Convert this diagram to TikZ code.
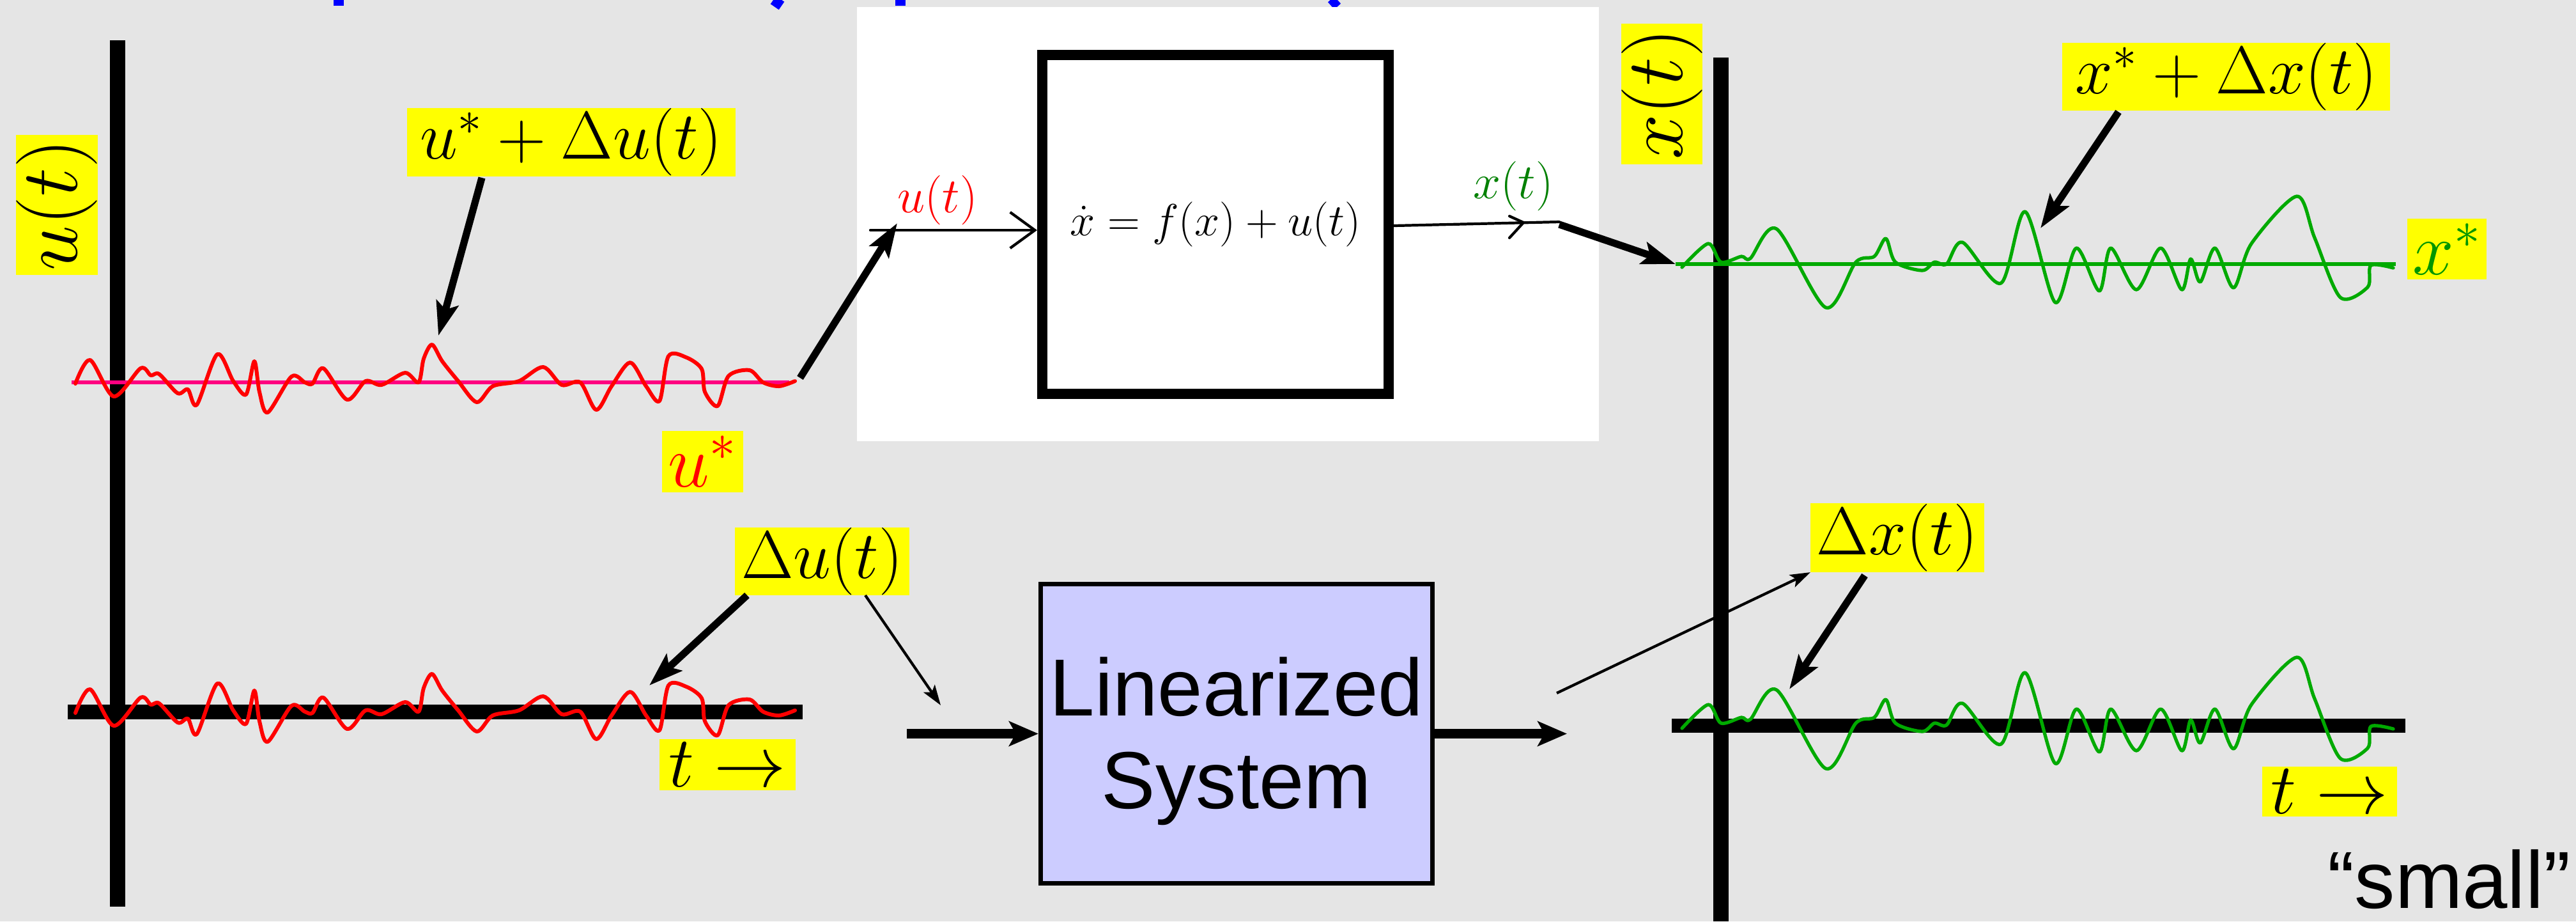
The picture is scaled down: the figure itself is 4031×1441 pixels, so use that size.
\RequirePackage{fix-cm}
\documentclass[tikz,border=0pt]{standalone}
\usepackage{fontspec}
\newfontfamily\arialf{Liberation Sans}
\usetikzlibrary{arrows.meta}
\definecolor{bg}{RGB}{229,229,229}
\definecolor{ylw}{RGB}{255,255,0}
\definecolor{pinkline}{RGB}{255,0,128}
\definecolor{wavegreen}{RGB}{0,170,0}
\definecolor{stargreen}{RGB}{0,150,0}
\definecolor{hgreen}{RGB}{0,128,0}
\definecolor{lavender}{RGB}{204,204,255}
\definecolor{titleblue}{RGB}{0,0,255}
\tikzset{
  ylab/.style={fill=ylw, inner sep=0pt, outer sep=0pt, font=\fontsize{30}{36}\selectfont},
  bigylab/.style={ylab, rotate=90, font=\fontsize{36}{40}\selectfont},
  starlab/.style={ylab, font=\fontsize{33}{38}\selectfont},
  tlab/.style={ylab, font=\fontsize{32}{36}\selectfont},
  axisline/.style={line width=6.8pt},
  hline/.style={line width=6.4pt},
  thickarr/.style={line width=3.2pt, -{Stealth[length=15pt,width=10pt,inset=3pt]}},
  thinarr/.style={line width=1.2pt, -{Stealth[length=9pt,width=6pt,inset=2pt]}},
  blockarr/.style={line width=4.5pt, -{Stealth[length=13pt,width=11pt,inset=3pt]}},
  hand/.style={line width=1.2pt, line cap=round, line join=round},
  sansbig/.style={font=\arialf\fontsize{36}{41}\selectfont, inner sep=0pt},
  redwave/.pic={\draw[red, line width=1.7pt, line join=round, line cap=round]
    plot[smooth, tension=0.5] coordinates {
    (118,2) (141,-35) (178,22) (220,-22) (236,-11) (249,-13) (278,17) (294,11) (308,35)
    (340,-44) (365,-2) (385,19) (398,-33) (406,15) (419,47) (456,-9) (477,0) (489,2)
    (506,-22) (543,27) (572,-2) (597,4) (634,-15) (655,0) (663,-37) (676,-59) (692,-33)
    (717,-2) (746,31) (771,6) (812,-2) (850,-24) (879,4) (908,0) (933,43) (957,6)
    (986,-31) (1011,6) (1032,29) (1046,-41) (1074,-39) (1098,-21) (1103,15) (1123,37)
    (1140,-10) (1173,-19) (1194,0) (1219,6) (1244,-2)};},
  greenwave/.pic={\draw[wavegreen, line width=1.5pt, line join=round, line cap=round]
    plot[smooth, tension=0.5] coordinates {
    (2632,5) (2673,-32) (2693,-3) (2725,-12) (2739,-9) (2780,-55) (2857,68) (2904,-3)
    (2933,-12) (2951,-40) (2966,-3) (3008,10) (3027,-3) (3046,0) (3071,-34) (3131,30)
    (3169,-82) (3216,60) (3249,-25) (3285,42) (3303,-25) (3343,40) (3381,-25) (3414,40)
    (3428,-8) (3443,28) (3466,-25) (3495,37) (3523,-32) (3594,-106) (3622,-41) (3662,52)
    (3705,36) (3710,2) (3745,6)};}
}
\begin{document}
\begin{tikzpicture}[x=0.01cm, y=-0.01cm]
\useasboundingbox (0,0) rectangle (4031,1441);
\fill[bg] (0,0) rectangle (4031,1441);
% cut-off title fragments
\draw[titleblue, line width=4.3pt] (530,0) -- (530,9);
\draw[titleblue, line width=4.3pt] (1210,0) -- (1223,9);
\draw[titleblue, line width=4.3pt] (1409,0) -- (1409,9);
\draw[titleblue, line width=4.3pt] (2093,0) -- (2083,9);
% white panel with nonlinear system
\fill[white] (1341,11) rectangle (2502,690);
\node[draw, line width=4.5pt, minimum width=5.42cm, minimum height=5.30cm, inner sep=0pt,
      font=\fontsize{20}{24}\selectfont] (sys) at (1902,351) {$\dot{x}=f(x)+u(t)$};
\node[text=red, font=\fontsize{22}{24}\selectfont] (hu) at (1467,313) {$u(t)$};
\node[text=hgreen, font=\fontsize{22}{24}\selectfont] (hx) at (2368,291) {$x(t)$};
\coordinate (hin) at (1362,360);
\coordinate (hout) at (2440,347);
\draw[hand, -{Straight Barb[length=11pt,width=16pt]}] (hin) -- (hin -| sys.west);
\draw[hand] (sys.east |- 0,353) -- (hout);
\draw[hand] (2362,338) -- (2384,348) -- (2362,372);
% left axes
\draw[axisline] (184,63) -- (184,1418);
\draw[hline] (106,1113.5) -- (1256,1113.5);
\draw[line width=1.8pt, pinkline] (112,598) -- (1235,598);
\pic at (0,598) {redwave};
\pic at (0,1113) {redwave};
% right axes
\draw[axisline] (2693,90) -- (2693,1441);
\draw[hline] (2616,1135) -- (3764,1135);
\draw[line width=1.8pt, wavegreen] (2622,413) -- (3749,413);
\pic at (0,413) {greenwave};
\pic at (0,1134) {greenwave};
% labels
\node[bigylab, minimum width=2.19cm, minimum height=1.28cm] (ut) at (89,320.5) {$u(t)$};
\node[bigylab, minimum width=2.20cm, minimum height=1.27cm] (xt) at (2600.5,147) {$x(t)$};
\node[ylab, minimum width=5.14cm, minimum height=1.07cm] (uplus) at (894,222.5) {$u^*+\Delta u(t)$};
\node[starlab, text=red, minimum width=1.27cm, minimum height=0.96cm] (ustar) at (1099.5,722) {$u^*$};
\node[ylab, minimum width=2.73cm, minimum height=1.06cm] (du) at (1286.5,878) {$\Delta u(t)$};
\node[tlab, minimum width=2.13cm, minimum height=0.80cm] (tl) at (1138.5,1196) {$t\rightarrow$};
\node[ylab, minimum width=5.13cm, minimum height=1.06cm] (xplus) at (3483.5,120) {$x^*+\Delta x(t)$};
\node[starlab, text=stargreen, minimum width=1.24cm, minimum height=0.95cm] (xstar) at (3829,389.5) {$x^*$};
\node[ylab, minimum width=2.72cm, minimum height=1.08cm] (dx) at (2969,841) {$\Delta x(t)$};
\node[tlab, minimum width=2.11cm, minimum height=0.78cm] (tr) at (3645.5,1238) {$t\rightarrow$};
% linearized system
\node[draw, line width=2pt, fill=lavender, minimum width=6.13cm, minimum height=4.68cm, inner sep=0pt] (lin) at (1935,1147.5) {};
\node[sansbig, anchor=base] (lin1) at (1935,1119) {Linearized};
\node[sansbig, anchor=base] (lin2) at (1935,1264) {System};
\node[sansbig, anchor=base east] (small) at (4023,1420) {“small”};
% connectors
\coordinate (c1a) at (754,278);  \coordinate (c1b) at (686,525);
\coordinate (c2a) at (1252,591); \coordinate (c2b) at (1404,349);
\coordinate (c5a) at (2440,351); \coordinate (c5b) at (2622,413);
\coordinate (c6a) at (3315,175); \coordinate (c6b) at (3193,357);
\coordinate (c7a) at (1169,931); \coordinate (c7b) at (1016,1072);
\coordinate (c8a) at (1354,931); \coordinate (c8b) at (1472,1103);
\coordinate (c9) at (1419,1147.5); \coordinate (c10) at (2452,1147.5);
\coordinate (c11) at (2436,1084);
\coordinate (c12a) at (2918,900); \coordinate (c12b) at (2800,1078);
\draw[thickarr] (c1a) -- (c1b);
\draw[thickarr] (c2a) -- (c2b);
\draw[thickarr] (c5a) -- (c5b);
\draw[thickarr] (c6a) -- (c6b);
\draw[thickarr] (c7a) -- (c7b);
\draw[thinarr] (c8a) -- (c8b);
\draw[blockarr] (c9) -- (lin.west);
\draw[blockarr] (lin.east) -- (c10);
\draw[thinarr] (c11) -- (dx.south west);
\draw[thickarr] (c12a) -- (c12b);
\end{tikzpicture}
\end{document}
